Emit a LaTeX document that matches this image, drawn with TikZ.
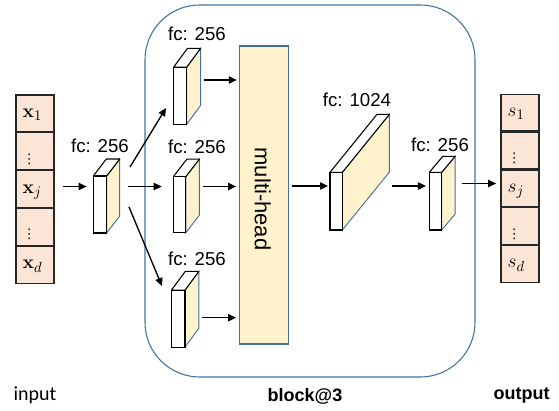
\documentclass[tikz,border=0pt]{standalone}
\usepackage[no-math]{fontspec}
\setmainfont{Liberation Sans}
\newfontfamily\inputfont{Carlito}
\newfontfamily\dotsfont{DejaVu Sans}
\usepackage{amsmath}
\usetikzlibrary{arrows.meta,positioning,fit}
\definecolor{cellcolor}{HTML}{FBE5D6}
\definecolor{facecolor}{HTML}{FFF2CC}
\definecolor{edgecolor}{HTML}{41719C}

\newcommand{\vdotsc}{\raisebox{-6pt}{\dotsfont\fontsize{10}{12}\selectfont ⋮}}
% fc layer: name, x, y (front top left), width, height, depth x, depth y
\newcommand{\fcbox}[7]{%
	\path(#2,#3)coordinate(#1-nw)++(#4,#5)coordinate(#1-se);
	\filldraw[sideface](#1-nw-|#1-se)--++(#6,-#7)--++(0,#5)--++(-#6,#7)--cycle;
	\filldraw[topface](#1-nw)--++(#6,-#7)--++(#4,0)--++(-#6,#7)--cycle;
	\node[frontface,fit=(#1-nw)(#1-se)] (#1) {};
}

\tikzset{
	cell/.style={draw=black!85,fill=cellcolor,line width=0.9pt,minimum width=28.5pt,minimum height=27.5pt,inner xsep=5pt,inner ysep=0pt,text width=18.5pt,align=left,text height=10pt,text depth=4pt,font=\fontsize{15}{17}\selectfont},
	sideface/.style={draw=edgecolor,fill=facecolor,line width=0.7pt},
	topface/.style={draw=black,fill=white,line width=0.8pt,line join=round},
	frontface/.style={draw=black,fill=white,line width=0.9pt,inner sep=0pt,outer sep=0pt},
	fclabel/.style={font=\fontsize{14}{16}\selectfont},
	blockbox/.style={draw=edgecolor,line width=0.8pt,rounded corners=41pt},
	mhead/.style={draw=edgecolor,fill=facecolor,line width=0.8pt},
	arr/.style={-{Triangle[length=6pt,width=5.5pt]},line width=1pt},
}

\begin{document}
\begin{tikzpicture}[x=0.75pt,y=-0.75pt]
	\useasboundingbox (0,0) rectangle (559,410);
	%block
	\node[blockbox,minimum width=247.5pt,minimum height=279pt] (blk) at (310,191) {};
	
	%input and output
	\node[cell] (x1) at (35,113.3) {$\mathbf{x}_1$};
	\node[cell,below=0pt of x1] (x2) {\vdotsc};
	\node[cell,below=0pt of x2] (x3) {$\mathbf{x}_j$};
	\node[cell,below=0pt of x3] (x4) {\vdotsc};
	\node[cell,below=0pt of x4] (x5) {$\mathbf{x}_d$};
	\node[cell] (s1) at (520,112.5) {$s_1$};
	\node[cell,below=0pt of s1] (s2) {\vdotsc};
	\node[cell,below=0pt of s2] (s3) {$s_j$};
	\node[cell,below=0pt of s3] (s4) {\vdotsc};
	\node[cell,below=0pt of s4] (s5) {$s_d$};
	
	%fc layers
	\fcbox{fcin}{93.3}{176}{13.4}{57}{13}{17}
	\fcbox{fca}{173.6}{67.2}{13.1}{57.1}{13.9}{18.9}
	\fcbox{fcb}{173.3}{176.7}{12.5}{56}{13.5}{17.5}
	\fcbox{fcc}{171.4}{290.2}{13.6}{56.9}{13.9}{18.9}
	\fcbox{fcw}{330}{172.3}{12.4}{57.7}{47}{58}
	\fcbox{fco}{429.3}{172.3}{12.4}{57.7}{13.5}{16}
	\node[fclabel] (lin) at (100,146) {fc: 256};
	\node[fclabel] (la) at (197,34) {fc: 256};
	\node[fclabel] (lb) at (197,147) {fc: 256};
	\node[fclabel] (lc) at (197,259) {fc: 256};
	\node[fclabel] (lw) at (357,100) {fc: 1024};
	\node[fclabel] (lo) at (440,145) {fc: 256};
	
	%multi-head
	\node[mhead,minimum width=36.75pt,minimum height=223.5pt] (mh) at (263.8,195) {};
	\node[rotate=-90,font=\fontsize{16.5}{19}\selectfont] (mht) at (262.7,199) {multi-head};
	
	%arrows
	\coordinate (a0) at (62.7,186.5);
	\coordinate (a1) at (128,186.5);
	\coordinate (a2) at (204.3,80);
	\coordinate (a3) at (202.7,186.5);
	\coordinate (a4) at (202.3,317.7);
	\coordinate (a5) at (292,186);
	\coordinate (a6) at (392.3,186);
	\coordinate (a7) at (461.7,183.5);
	\coordinate (d1) at (130,167);
	\coordinate (d1e) at (166,108);
	\coordinate (d2) at (129,207);
	\coordinate (d2e) at (162,286);
	\draw[arr,shorten >=5pt](a0)--(a0-|fcin.west);
	\draw[arr,shorten >=8.7pt](a1)--(a1-|fcb.west);
	\draw[arr](d1)--(d1e);
	\draw[arr](d2)--(d2e);
	\draw[arr,shorten >=1.5pt](a2)--(a2-|mh.west);
	\draw[arr,shorten >=2pt](a3)--(a3-|mh.west);
	\draw[arr,shorten >=2pt](a4)--(a4-|mh.west);
	\draw[arr,shorten >=1.5pt](a5)--(a5-|fcw.west);
	\draw[arr,shorten >=2.5pt](a6)--(a6-|fco.west);
	\draw[arr,shorten >=3.2pt](a7)--(a7-|s3.west);
	
	%bottom labels
	\node[font=\inputfont\fontsize{15}{18}\selectfont] (lin) at (35,395) {input};
	\node[font=\fontsize{13.5}{16}\selectfont\bfseries] (lblk) at (305,396) {block@3};
	\node[font=\fontsize{13.5}{16}\selectfont\bfseries] (lout) at (521.7,395) {output};
\end{tikzpicture}
\end{document}
